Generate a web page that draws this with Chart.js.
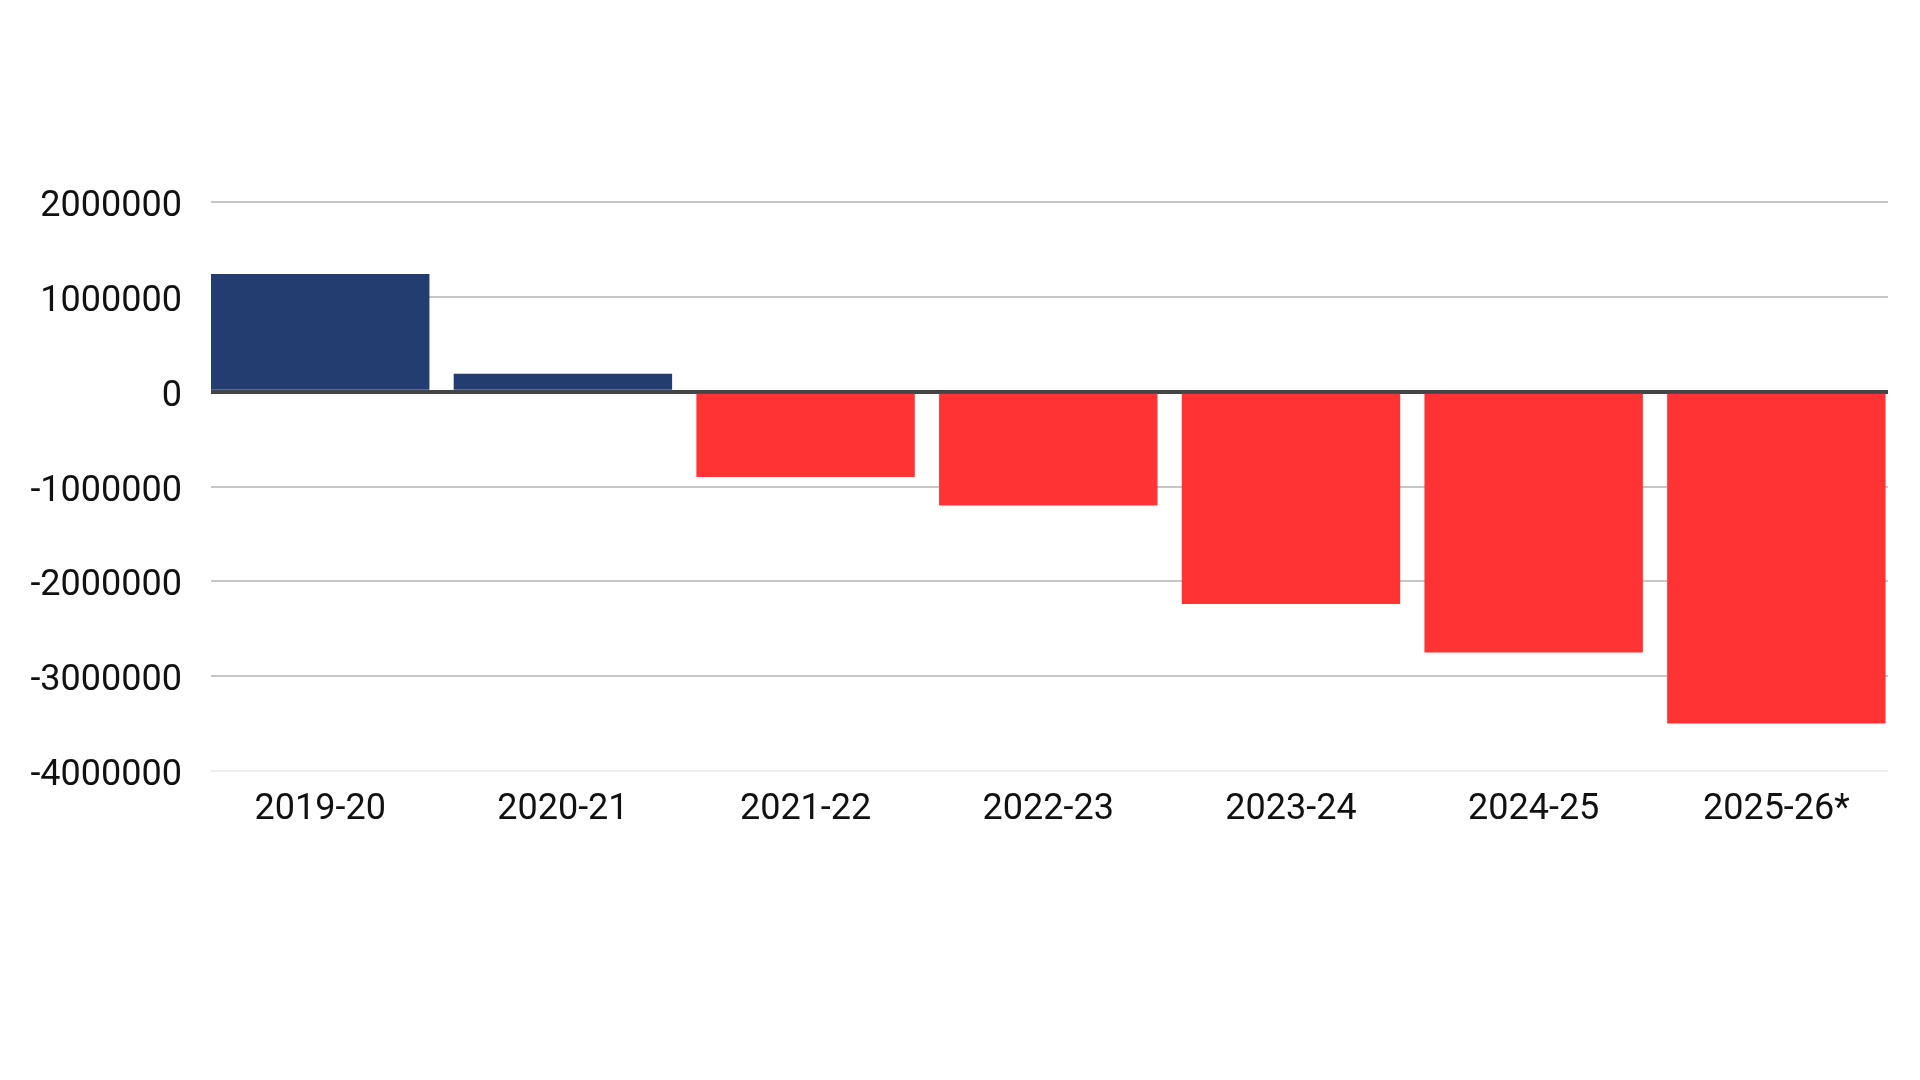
<!DOCTYPE html>
<html lang="en">
<head>
    <meta charset="UTF-8">
    <title>Balance by year</title>
    <script src="https://cdn.jsdelivr.net/npm/chart.js@4.4.3/dist/chart.umd.min.js"></script>
    <style>
        html, body { margin: 0; padding: 0; background: #ffffff; }
        #wrap { width: 1920px; height: 1080px; }
    </style>
</head>
<body>
    <div id="wrap"><canvas id="balanceChart" width="1920" height="1080"></canvas></div>
    <script>
        // data
        const years = ['2019-20', '2020-21', '2021-22', '2022-23', '2023-24', '2024-25', '2025-26*'];
        const balance = [1240000, 190000, -900000, -1200000, -2240000, -2750000, -3500000];
        const yTicks = [2000000, 1000000, 0, -1000000, -2000000, -3000000, -4000000];

        const blue = '#233d70';
        const red = '#ff3333';

        new Chart(document.getElementById('balanceChart'), {
            type: 'bar',
            data: {
                labels: years,
                datasets: [{
                    data: balance,
                    backgroundColor: balance.map(v => v >= 0 ? blue : red),
                    borderWidth: 0,
                    barPercentage: 1.0,
                    categoryPercentage: 0.9
                }]
            },
            options: {
                responsive: false,
                animation: false,
                layout: { padding: { top: 202, right: 32, left: 0, bottom: 0 } },
                plugins: {
                    legend: { display: false },
                    tooltip: { enabled: false }
                },
                scales: {
                    x: {
                        grid: { display: false },
                        border: { display: false },
                        ticks: {
                            color: '#111',
                            padding: 9,
                            font: { family: 'Roboto', size: 36 }
                        },
                        // bars sit flush with the left edge, the last gap is cut off on the right
                        afterBuildTicks: s => { s._startValue = -0.45; s._valueRange = 6.91; },
                        afterFit: s => { s.height = 309; }
                    },
                    y: {
                        min: Math.min(...yTicks),
                        max: Math.max(...yTicks),
                        afterBuildTicks: s => { s.ticks = yTicks.map(v => ({ value: v })); },
                        border: { display: false },
                        grid: {
                            drawTicks: false,
                            color: c => c.tick.value === 0 ? '#444444' : (c.tick.value === -4000000 ? '#eeeeee' : '#c6c6c6'),
                            lineWidth: c => c.tick.value === 0 ? 4 : 2
                        },
                        ticks: {
                            color: '#111',
                            padding: 29,
                            labelOffset: 5,
                            font: { family: 'Roboto', size: 36 },
                            callback: v => String(v)
                        },
                        afterFit: s => { s.width = 211; }
                    }
                }
            }
        });
    </script>
</body>
</html>
